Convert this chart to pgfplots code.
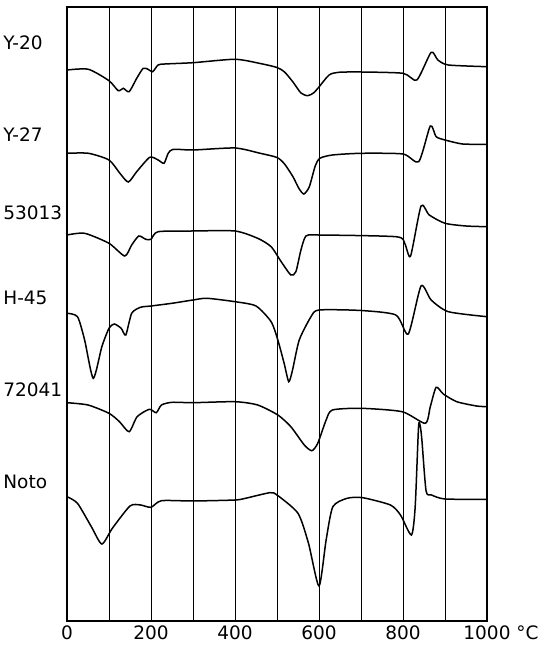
\documentclass[border=0pt]{standalone}
\usepackage{fontspec}
\setmainfont{DejaVu Sans}
\usepackage{pgfplots}
\pgfplotsset{compat=1.18}
\newcommand{\lf}{\fontsize{18.5}{22}\selectfont}
\tikzset{curve/.style={black, solid, line width=1.5pt, smooth, tension=0.4, mark=none}}
\begin{document}
\begin{tikzpicture}
\begin{axis}[
 scale only axis, width=420pt, height=614pt,
 xmin=0, xmax=1000, ymin=-621, ymax=-7,
 xtick={0,200,400,600,800,1000},
 xticklabels={0,200,400,600,800,{1000\rlap{ °C}}},
 minor xtick={100,300,500,700,900},
 xmajorgrids, xminorgrids,
 major grid style={black, line width=0.8pt},
 minor grid style={black, line width=0.8pt},
 ytick=\empty,
 major tick length=0pt, minor tick length=0pt,
 axis line style={line width=1.7pt},
 tick label style={font=\lf},
 /pgf/number format/assume math mode=true,
 xticklabel style={yshift=-1pt},
 clip=false,
]
% bounding area
\path (axis cs:-159.5,0) rectangle (axis cs:1140.5,-652);
% Y-20
\addplot[curve] coordinates {(0,-70) (51,-69.3) (100,-80.7) (122,-90.7) (134,-88.3) (148,-91.7) (166,-78.3) (181.5,-68.3) (193,-69.3) (204,-71.7) (217,-65) (233,-64) (300,-62.7) (400,-59.3) (460,-63.5) (500,-67.5) (518,-72) (538,-82) (557,-93) (573,-95.7) (587,-93) (600,-87) (624,-75) (647,-72.3) (700,-72) (800,-73.3) (833,-80) (867,-52.3) (883,-60) (908,-65) (1000,-66.7)};
% Y-27
\addplot[curve] coordinates {(0,-153.3) (51,-153.3) (100,-160) (126,-173.3) (146,-182) (166,-171.7) (197,-157.3) (217,-160) (231,-163.3) (241,-153.3) (253,-149.3) (300,-150) (400,-148) (460,-153.3) (500,-157.5) (518,-164) (538,-176.7) (552,-188.3) (564,-194) (577,-186.7) (591,-166) (602,-158.3) (632,-155) (700,-153.3) (800,-154) (837.5,-161.7) (865,-126) (879,-136.7) (900,-140) (942,-144) (1000,-144.3)};
% 53013
\addplot[curve] coordinates {(0,-235) (42,-233.3) (100,-243.3) (137.5,-256) (154,-245) (171,-236) (187.5,-239.3) (200,-239.3) (217,-231.7) (300,-231) (400,-231) (454,-238.3) (486,-246.7) (510,-261.7) (533,-275) (545,-271.7) (557,-250) (569,-236) (597,-235) (783,-236.7) (804,-243.3) (818,-256) (843,-206) (862.5,-215) (900,-223.3) (950,-226) (1000,-226.7)};
% H-45
\addplot[curve] coordinates {(0,-313.3) (25,-316.7) (42,-340) (62.5,-378.3) (83,-346.7) (100,-328.3) (112.5,-324) (129,-328.3) (140,-335) (154,-313.3) (175,-307.3) (200,-306) (250,-303.3) (300,-300) (333,-298.3) (400,-301.7) (450,-306) (486,-321.7) (502,-340) (517,-363.3) (528,-381.7) (537,-370) (553,-340) (581,-316.7) (600,-310) (700,-310.5) (783,-315) (812.5,-334) (843,-286) (867,-300) (908,-311.7) (1000,-316.7)};
% 72041
\addplot[curve] coordinates {(0,-402.7) (50,-405) (100,-413.3) (125,-421.7) (148,-431.7) (167,-416.7) (196,-409.3) (212.5,-412.7) (225,-405) (250,-402.3) (300,-402.7) (400,-401.7) (454,-405) (502,-415) (533,-426.7) (565,-445) (583,-450.7) (597,-443.3) (617,-420) (632,-410) (700,-408.3) (798,-411.7) (853,-423.3) (865,-406.7) (879,-387.3) (896,-394) (928,-401.7) (975,-406) (1000,-406.7)};
% Noto
\addplot[curve] coordinates {(0,-496.7) (25,-503.3) (58,-526.7) (83,-544) (108,-528.3) (150,-506) (175,-505) (200,-507.3) (225,-500.7) (300,-501) (400,-500) (425,-498.3) (483,-492.7) (500,-495) (550,-513.3) (575,-543.3) (600,-586) (617,-540) (633,-506.7) (667,-498.3) (704,-497.7) (770,-505) (794,-515) (820,-535) (829,-507) (837,-427) (841,-426) (845,-440) (855,-491) (868,-495) (900,-499) (1000,-499.3)};
% labels
\node[anchor=west, font=\lf, inner sep=0pt] at (axis cs:-152,-43) {Y-20};
\node[anchor=west, font=\lf, inner sep=0pt] at (axis cs:-152,-135) {Y-27};
\node[anchor=west, font=\lf, inner sep=0pt] at (axis cs:-152,-213) {53013};
\node[anchor=west, font=\lf, inner sep=0pt] at (axis cs:-152,-298) {H-45};
\node[anchor=west, font=\lf, inner sep=0pt] at (axis cs:-152,-390) {72041};
\node[anchor=west, font=\lf, inner sep=0pt] at (axis cs:-152,-482) {Noto};
\end{axis}
\end{tikzpicture}
\end{document}
